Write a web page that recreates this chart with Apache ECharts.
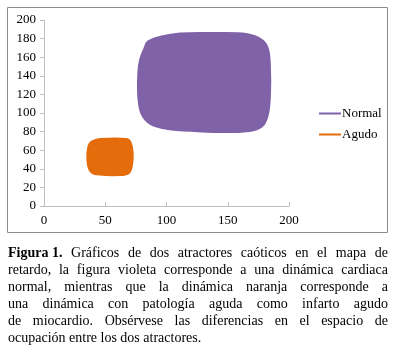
<!DOCTYPE html>
<html>
<head>
<meta charset="utf-8">
<script src="https://cdn.jsdelivr.net/npm/echarts@6/dist/echarts.min.js"></script>
<style>
html,body{margin:0;padding:0;background:#fff;}
#chart{position:absolute;left:0;top:0;width:400px;height:351px;}
#cap{position:absolute;left:8px;top:243.5px;width:380px;font-family:"Liberation Serif","Times New Roman",serif;font-size:14px;line-height:17px;color:#000;}
#cap div{text-align:justify;text-align-last:justify;white-space:nowrap;display:flex;justify-content:space-between;}
#cap div.last{justify-content:flex-start;}
#cap span{white-space:pre;}
</style>
</head>
<body>
<div id="chart"></div>
<div id="cap"></div>
<script>
// ---- data ----
const xTicks = [0, 50, 100, 150, 200];
const yTicks = [0, 20, 40, 60, 80, 100, 120, 140, 160, 180, 200];
const seriesNames = ['Normal', 'Agudo'];
// outline of the "Normal" attractor (delay map x(n), x(n+1))
const normalX = [85, 95, 111, 138, 165, 178, 183, 184.5, 184.5, 183, 179, 171, 152, 125, 100, 86.5, 79.5, 77, 77, 78.4, 82];
const normalY = [177, 182, 185.5, 186, 185, 178.5, 168, 146, 121, 100, 87, 81.5, 79.5, 80.5, 83, 88.5, 99.5, 117.5, 142.7, 157, 169.5];
// outline of the "Agudo" attractor
const agudoX = [38.9, 45.7, 67.5, 70.7, 72.4, 71.6, 68.8, 62, 43, 37.6, 35.4, 36.2];
const agudoY = [69.2, 72, 72, 68, 56.7, 42.3, 35.1, 33.3, 34, 38, 49.5, 63.8];
const captionLines = [
  ['<b>Figura 1.</b>', 'Gráficos', 'de', 'dos', 'atractores', 'caóticos', 'en', 'el', 'mapa', 'de'],
  ['retardo,', 'la', 'figura', 'violeta', 'corresponde', 'a', 'una', 'dinámica', 'cardiaca'],
  ['normal,', 'mientras', 'que', 'la', 'dinámica', 'naranja', 'corresponde', 'a'],
  ['una', 'dinámica', 'con', 'patología', 'aguda', 'como', 'infarto', 'agudo'],
  ['de', 'miocardio.', 'Obsérvese', 'las', 'diferencias', 'en', 'el', 'espacio', 'de'],
  ['ocupación entre los dos atractores.']
];
// -------------------------------------------------

const cap = document.getElementById('cap');
captionLines.forEach((words, i) => {
  const d = document.createElement('div');
  if (i === captionLines.length - 1) d.className = 'last';
  d.innerHTML = words.map(w => '<span>' + w + '</span>').join('');
  cap.appendChild(d);
});

const normalPts = normalX.map((x, i) => [x, normalY[i]]);
const agudoPts = agudoX.map((x, i) => [x, agudoY[i]]);

function blob(points, color) {
  return function (params, api) {
    if (params.dataIndex !== 0) return null;
    const pts = points.map(p => api.coord(p));
    return {
      type: 'polygon',
      shape: { points: pts, smooth: 0.35 },
      style: { fill: color, stroke: color, lineWidth: 2 }
    };
  };
}

const font = '"Liberation Serif","Times New Roman",serif';
const chart = echarts.init(document.getElementById('chart'), null, { renderer: 'canvas' });
chart.setOption({
  animation: false,
  grid: { left: 44, right: 111, top: 20, bottom: 145, containLabel: false },
  xAxis: {
    type: 'value', min: xTicks[0], max: xTicks[xTicks.length - 1], interval: 50,
    axisLine: { lineStyle: { color: '#bfbfbf', width: 1 } },
    axisTick: { show: true, inside: true, length: 4, lineStyle: { color: '#bfbfbf' } },
    splitLine: { show: false },
    axisLabel: { color: '#000', fontFamily: font, fontSize: 13, margin: 8 }
  },
  yAxis: {
    type: 'value', min: yTicks[0], max: yTicks[yTicks.length - 1], interval: 20,
    axisLine: { show: true, lineStyle: { color: '#bfbfbf', width: 1 } },
    axisTick: { show: true, inside: false, length: 4, lineStyle: { color: '#bfbfbf' } },
    splitLine: { show: false },
    axisLabel: { color: '#000', fontFamily: font, fontSize: 13, margin: 8 }
  },
  legend: {
    orient: 'vertical', left: 314, top: 102, itemGap: 8,
    itemWidth: 22, itemHeight: 2,
    textStyle: { color: '#000', fontFamily: font, fontSize: 13, padding: [0, 0, 0, -4] },
    data: [{ name: seriesNames[0], icon: 'rect' }, { name: seriesNames[1], icon: 'rect' }]
  },
  graphic: [{
    type: 'rect', silent: true,
    shape: { x: 7.5, y: 7.5, width: 380, height: 225 },
    style: { fill: 'none', stroke: '#8c8c8c', lineWidth: 1 }
  }],
  series: [
    {
      name: seriesNames[0], type: 'custom', silent: true,
      itemStyle: { color: '#7F62A8' },
      renderItem: blob(normalPts, '#7F62A8'),
      data: normalPts, clip: false
    },
    {
      name: seriesNames[1], type: 'custom', silent: true,
      itemStyle: { color: '#E46C0A' },
      renderItem: blob(agudoPts, '#E46C0A'),
      data: agudoPts, clip: false
    }
  ]
});
</script>
</body>
</html>
